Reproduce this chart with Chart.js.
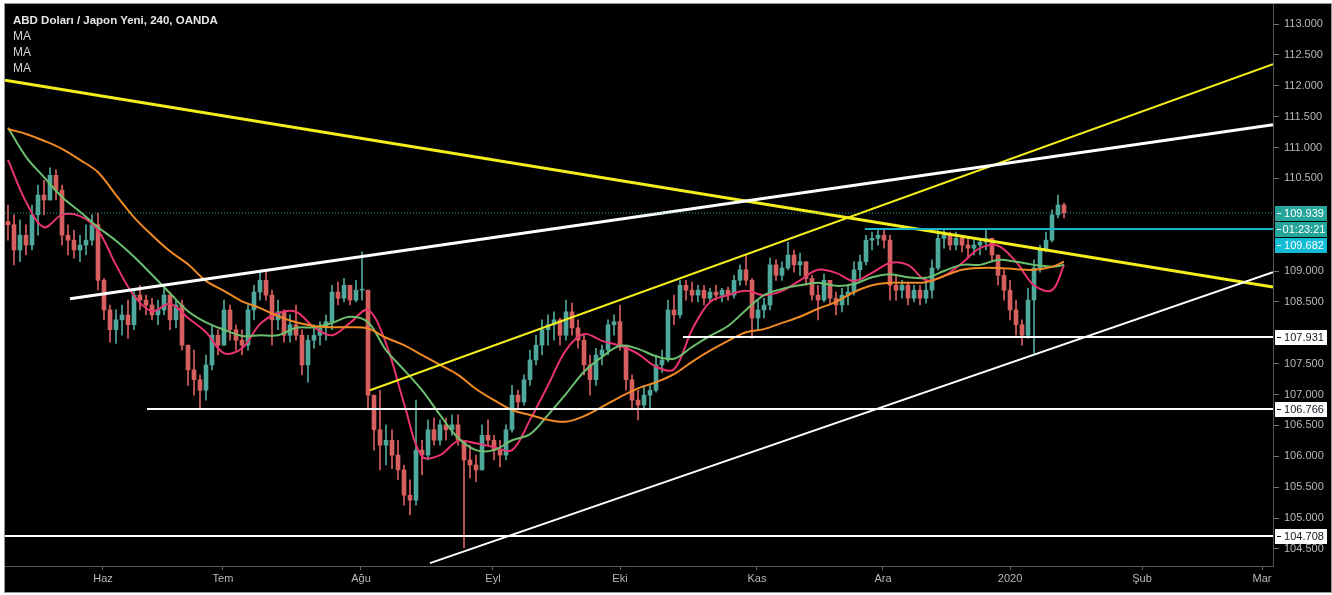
<!DOCTYPE html>
<html>
<head>
<meta charset="utf-8">
<script src="https://cdn.jsdelivr.net/npm/chart.js@4.4.1/dist/chart.umd.min.js"></script>
<style>
html, body { margin: 0; padding: 0; background: #fff; }
#wrap { position: absolute; left: 4px; top: 3px; width: 1326px; height: 588px; border: 1px solid #9a9a9a; background: #000; overflow: hidden; }
#c { position: absolute; left: 0; top: 0; }
#legend { position: absolute; left: 8px; top: 8px; font-family: 'Liberation Sans', Arial, sans-serif; font-size: 12px; line-height: 16px; color: #d4d4d4; pointer-events: none; }
#legend .t { font-weight: bold; font-size: 11.5px; color: #e6e6e6; }
</style>
</head>
<body>
<div id="wrap">
  <canvas id="c" width="1326" height="588"></canvas>
  <div id="legend">
    <div class="t">ABD Doları / Japon Yeni, 240, OANDA</div>
    <div>MA</div>
    <div>MA</div>
    <div>MA</div>
  </div>
</div>
<script>
// x axis unit = trading day, month starts where TradingView puts them
const monthTicks = [16.33, 36.33, 59.33, 81.33, 102.5, 125.33, 146.33, 167.5, 189.5, 209.5];
const monthLabels = ['Haz', 'Tem', 'Ağu', 'Eyl', 'Eki', 'Kas', 'Ara', '2020', 'Şub', 'Mar'];
const priceTicks = [104.5, 105, 105.5, 106, 106.5, 107, 107.5, 108, 108.5, 109, 109.5, 110, 110.5, 111, 111.5, 112, 112.5, 113];

// daily candles
const firstOpen = 109.80;
const closes = [
  109.75, 109.34, 109.58, 109.42, 109.91, 110.23, 110.15, 110.55, 110.31, 109.58,
  109.50, 109.34, 109.42, 109.50, 109.75, 108.85, 108.37, 108.05, 108.21, 108.29,
  108.13, 108.61, 108.53, 108.45, 108.29, 108.37, 108.61, 108.21, 108.45, 107.80,
  107.40, 107.24, 107.07, 107.48, 107.96, 107.80, 108.37, 108.05, 107.88, 107.80,
  108.37, 108.66, 108.85, 108.61, 108.21, 108.34, 107.96, 108.13, 107.96, 107.48,
  107.88, 107.96, 108.08, 108.18, 108.66, 108.56, 108.77, 108.53, 108.69, 108.69,
  106.99, 106.43, 106.18, 106.26, 106.02, 105.78, 105.37, 105.29, 106.10, 106.02,
  106.43, 106.26, 106.51, 106.43, 106.51, 106.26, 105.94, 105.86, 105.78, 106.34,
  106.26, 106.10, 106.02, 106.43, 106.99, 106.88, 107.24, 107.56, 107.80, 108.05,
  108.13, 108.21, 107.96, 108.34, 108.08, 107.88, 107.48, 107.24, 107.64, 107.72,
  108.13, 108.18, 107.80, 107.24, 106.91, 106.83, 106.99, 107.07, 107.48, 107.56,
  108.37, 108.29, 108.77, 108.69, 108.61, 108.69, 108.56, 108.66, 108.61, 108.69,
  108.61, 108.85, 109.02, 108.85, 108.24, 108.37, 108.45, 109.10, 108.93, 109.05,
  109.26, 109.10, 109.15, 108.88, 108.61, 108.53, 108.85, 108.56, 108.45, 108.61,
  108.66, 109.02, 109.15, 109.50, 109.53, 109.58, 109.50, 108.77, 108.69, 108.77,
  108.56, 108.69, 108.56, 108.69, 109.05, 109.53, 109.58, 109.42, 109.53, 109.42,
  109.37, 109.42, 109.47, 109.53, 109.26, 108.93, 108.69, 108.37, 108.13, 107.96,
  108.53, 109.05, 109.34, 109.50, 109.91, 110.07, 109.94
];
const highs = [
  110.07, 109.91, 109.83, 109.75, 110.07, 110.39, 110.47, 110.67, 110.64, 110.39,
  109.75, 109.66, 109.58, 109.75, 109.91, 109.94, 108.88, 108.45, 108.37, 108.45,
  108.53, 108.72, 108.77, 108.61, 108.56, 108.53, 108.72, 108.66, 108.53, 108.53,
  107.80, 107.72, 107.32, 107.64, 108.13, 108.05, 108.53, 108.45, 108.13, 108.05,
  108.45, 108.77, 108.98, 109.02, 108.69, 108.53, 108.37, 108.29, 108.45, 108.05,
  107.96, 108.13, 108.18, 108.29, 108.77, 108.82, 108.88, 108.77, 108.85, 109.31,
  108.69, 106.99, 107.07, 106.51, 106.43, 106.26, 105.86, 105.62, 106.91, 106.26,
  106.59, 106.62, 106.59, 106.62, 106.67, 106.67, 106.26, 106.18, 106.02, 106.51,
  106.59, 106.34, 106.26, 106.51, 107.15, 107.07, 107.32, 107.72, 107.96, 108.21,
  108.29, 108.34, 108.24, 108.53, 108.48, 108.21, 107.96, 107.64, 107.75, 107.80,
  108.21, 108.29, 108.45, 107.80, 107.32, 107.07, 107.15, 107.15, 107.64, 107.72,
  108.53, 108.61, 108.85, 108.85, 108.82, 108.77, 108.77, 108.72, 108.77, 108.72,
  108.74, 108.93, 109.10, 109.26, 108.88, 108.53, 108.56, 109.21, 109.18, 109.15,
  109.47, 109.34, 109.29, 109.15, 108.93, 108.77, 108.95, 108.85, 108.66, 108.72,
  108.77, 109.15, 109.26, 109.58, 109.63, 109.69, 109.69, 109.58, 108.93, 108.85,
  108.82, 108.77, 108.77, 108.85, 109.18, 109.66, 109.66, 109.63, 109.63, 109.58,
  109.53, 109.50, 109.53, 109.66, 109.53, 109.26, 109.02, 108.85, 108.53, 108.21,
  108.72, 109.18, 109.42, 109.63, 109.99, 110.23, 110.10
];
const lows = [
  109.50, 109.10, 109.15, 109.26, 109.34, 109.58, 109.91, 110.15, 110.15, 109.42,
  109.26, 109.21, 109.15, 109.26, 109.42, 108.69, 108.21, 107.85, 107.83, 107.96,
  107.91, 108.05, 108.37, 108.29, 108.21, 108.13, 108.29, 108.05, 108.08, 107.72,
  107.15, 106.99, 106.78, 106.91, 107.40, 107.64, 107.80, 107.88, 107.72, 107.64,
  107.72, 108.21, 108.53, 108.53, 107.80, 108.05, 107.85, 107.85, 107.88, 107.32,
  107.20, 107.75, 107.80, 107.88, 108.05, 108.45, 108.50, 108.45, 108.50, 108.53,
  106.75, 106.10, 105.78, 105.86, 105.80, 105.62, 105.21, 105.05, 105.21, 105.70,
  105.94, 106.18, 106.18, 106.26, 106.34, 106.18, 104.52, 105.65, 105.59, 105.78,
  106.18, 105.94, 105.83, 105.94, 106.39, 106.75, 106.83, 107.15, 107.48, 107.64,
  107.80, 107.88, 107.80, 107.88, 107.96, 107.75, 107.32, 106.99, 107.15, 107.48,
  107.64, 107.96, 107.72, 107.07, 106.75, 106.59, 106.75, 106.78, 107.04, 107.36,
  107.53, 108.13, 108.24, 108.53, 108.50, 108.50, 108.45, 108.50, 108.53, 108.50,
  108.53, 108.56, 108.77, 108.77, 107.91, 108.05, 108.24, 108.37, 108.85, 108.85,
  109.02, 108.98, 108.93, 108.77, 108.53, 108.21, 108.50, 108.45, 108.29, 108.34,
  108.45, 108.61, 108.85, 109.10, 109.34, 109.42, 109.37, 108.53, 108.53, 108.56,
  108.45, 108.50, 108.45, 108.48, 108.56, 109.02, 109.37, 109.34, 109.34, 109.31,
  109.21, 109.26, 109.26, 109.34, 109.15, 108.77, 108.53, 108.21, 107.96, 107.80,
  107.91, 107.67, 108.98, 109.31, 109.47, 109.86, 109.86
];

// moving averages, read every third candle (last point = last candle)
const maFast = [
  110.80, 110.12, 109.71, 109.91, 109.89, 109.66, 109.10, 108.60, 108.35, 108.47,
  108.24, 108.01, 107.67, 107.75, 108.14, 108.32, 108.34, 108.09, 107.96, 108.16,
  108.37, 107.83, 106.86, 106.00, 106.02, 106.25, 106.21, 106.15, 106.10, 106.59,
  107.15, 107.72, 107.98, 107.87, 107.79, 107.66, 107.45, 107.41, 108.05, 108.50,
  108.61, 108.68, 108.61, 108.68, 108.85, 109.02, 108.97, 108.84, 108.97, 109.13,
  109.10, 108.85, 108.92, 109.13, 109.37, 109.41, 109.15, 108.77, 108.69, 109.10
];
const maMid = [
  111.32, 110.85, 110.52, 110.20, 109.96, 109.71, 109.49, 109.23, 108.94, 108.64,
  108.35, 108.17, 108.05, 107.95, 107.96, 107.96, 108.08, 108.09, 108.16, 108.26,
  108.17, 107.72, 107.40, 107.07, 106.67, 106.30, 106.10, 106.10, 106.26, 106.36,
  106.67, 107.01, 107.37, 107.61, 107.79, 107.74, 107.62, 107.58, 107.77, 107.95,
  108.11, 108.37, 108.61, 108.71, 108.77, 108.81, 108.76, 108.79, 108.90, 108.95,
  108.90, 108.89, 109.00, 109.10, 109.10, 109.18, 109.15, 109.10, 109.07, 109.10
];
const maSlow = [
  111.30, 111.22, 111.11, 110.98, 110.80, 110.60, 110.23, 109.87, 109.58, 109.32,
  109.11, 108.84, 108.68, 108.51, 108.40, 108.27, 108.17, 108.11, 108.09, 108.09,
  108.07, 107.92, 107.80, 107.64, 107.48, 107.32, 107.09, 106.91, 106.75, 106.67,
  106.59, 106.56, 106.65, 106.80, 106.96, 107.10, 107.20, 107.33, 107.53, 107.71,
  107.87, 108.01, 108.06, 108.16, 108.26, 108.39, 108.50, 108.66, 108.77, 108.81,
  108.81, 108.82, 108.92, 109.02, 109.05, 109.05, 109.03, 109.02, 109.07, 109.15
];

// drawn trend lines [day, price]
const trendYellowDown = [[0, 112.09], [211.33, 108.74]];
const trendYellowUp = [[60.83, 107.07], [211.33, 112.35]];
const trendWhiteTop = [[10.83, 108.55], [211.33, 111.37]];
const trendWhiteBottom = [[70.83, 104.27], [211.33, 108.98]];
// horizontal levels [price, from day]
const levelWhite = [[107.931, 113], [106.766, 23.67], [104.708, 0]];
const levelCyan = [109.682, 143.33];
const lastPrice = 109.939;

const priceTags = [
  { value: 109.939, text: '109.939', kind: 'last' },
  { value: 109.939, text: '01:23:21', kind: 'countdown' },
  { value: 109.682, text: '109.682', kind: 'cyan' },
  { value: 107.931, text: '107.931', kind: 'white' },
  { value: 106.766, text: '106.766', kind: 'white' },
  { value: 104.708, text: '104.708', kind: 'white' }
];

const X_MAX = 211.33;
const UP = '#4fa89c', DOWN = '#d7605f';

const opens = closes.map((c, i) => i === 0 ? firstOpen : closes[i - 1]);
const candleColors = closes.map((c, i) => c >= opens[i] ? UP : DOWN);
const maDays = maFast.map((_, k) => k < maFast.length - 1 ? 0.5 + 3 * k : closes.length - 0.5);

function seg(pts) { return pts.map(p => ({ x: p[0], y: p[1] })); }
function lineDs(data, color, width, extra) {
  return Object.assign({ type: 'line', data, borderColor: color, borderWidth: width, pointRadius: 0, fill: false, order: 1 }, extra || {});
}
function maDs(vals, color) {
  return lineDs(vals.map((v, k) => ({ x: maDays[k], y: v })), color, 2, { tension: 0.35, order: 5 });
}

const tagStyle = {
  last: ['#26a69a', '#ffffff'],
  countdown: ['#26a69a', '#ffffff'],
  cyan: ['#12bcd4', '#ffffff'],
  white: ['#ffffff', '#131722']
};

const tagPlugin = {
  id: 'tags',
  afterDraw(chart) {
    const ctx = chart.ctx, ys = chart.scales.y, area = chart.chartArea;
    const h = 15, x0 = area.right + 2, w = 52;
    const placed = [];
    priceTags.forEach(t => {
      let y = ys.getPixelForValue(t.value);
      if (t.kind === 'countdown') y = placed[placed.length - 1].y + h + 1;
      placed.forEach(p => { if (y >= p.y - 0.5 && y < p.y + h + 1) y = p.y + h + 1; });
      placed.push({ y, t });
    });
    ctx.save();
    ctx.font = '11px "Liberation Sans", Arial, sans-serif';
    ctx.textBaseline = 'middle';
    ctx.textAlign = 'center';
    placed.forEach(p => {
      const [bg, fg] = tagStyle[p.t.kind];
      ctx.fillStyle = bg;
      ctx.fillRect(x0, Math.round(p.y - h / 2), w, h);
      ctx.fillStyle = fg;
      ctx.fillRect(x0 + 2, Math.round(p.y), 4, 1);
      ctx.fillText(p.t.text, x0 + w / 2 + 3, p.y + 0.5);
    });
    ctx.restore();
  }
};

const datasets = [
  { type: 'bar', data: closes.map((c, i) => ({ x: i + 0.5, y: [lows[i], highs[i]] })), backgroundColor: candleColors,
    barThickness: 1, grouped: false, order: 10 },
  { type: 'bar', data: closes.map((c, i) => ({ x: i + 0.5, y: [opens[i], c] })), backgroundColor: candleColors,
    barThickness: 4, minBarLength: 1, grouped: false, order: 9 },
  maDs(maSlow, '#f08a24'),
  maDs(maMid, '#6cbf6e'),
  maDs(maFast, '#e8336e'),
  lineDs([{ x: 0, y: lastPrice }, { x: X_MAX, y: lastPrice }], '#26a69a', 1, { borderDash: [1, 2] }),
  lineDs([{ x: levelCyan[1], y: levelCyan[0] }, { x: X_MAX, y: levelCyan[0] }], '#18b4cc', 2),
  ...levelWhite.map(l => lineDs([{ x: l[1], y: l[0] }, { x: X_MAX, y: l[0] }], '#ffffff', 2)),
  lineDs(seg(trendWhiteTop), '#ffffff', 3),
  lineDs(seg(trendWhiteBottom), '#ffffff', 2),
  lineDs(seg(trendYellowUp), '#f3ee1c', 2),
  lineDs(seg(trendYellowDown), '#f3ee1c', 3)
];

new Chart(document.getElementById('c'), {
  type: 'line',
  data: { datasets },
  options: {
    responsive: false,
    animation: false,
    layout: { padding: 0 },
    plugins: { legend: { display: false }, tooltip: { enabled: false } },
    scales: {
      x: {
        type: 'linear', min: 0, max: X_MAX, offset: false,
        afterBuildTicks: s => { s.ticks = monthTicks.map(v => ({ value: v })); },
        afterFit: s => { s.height = 26; s.paddingLeft = 0; s.paddingRight = 0; },
        ticks: { autoSkip: false, maxRotation: 0, padding: 2, color: '#b8b8b8',
          font: { family: 'Liberation Sans', size: 11 },
          callback: (v, i) => monthLabels[i] },
        grid: { drawOnChartArea: false, offset: false, tickLength: 4, color: '#666' },
        border: { color: '#555' }
      },
      y: {
        type: 'linear', position: 'right', min: 104.224, max: 113.324,
        afterBuildTicks: s => {
          s.ticks = priceTicks
            .filter(v => !priceTags.some(t => t.kind !== 'countdown' && Math.abs(t.value - v) < 0.2))
            .map(v => ({ value: v }));
        },
        afterFit: s => { s.width = 58; s.paddingTop = 0; s.paddingBottom = 0; },
        ticks: { autoSkip: false, padding: 5, color: '#b8b8b8',
          font: { family: 'Liberation Sans', size: 11 },
          callback: v => v.toFixed(3) },
        grid: { drawOnChartArea: false, tickLength: 6, color: '#777' },
        border: { color: '#555' }
      }
    }
  },
  plugins: [tagPlugin]
});
</script>
</body>
</html>
